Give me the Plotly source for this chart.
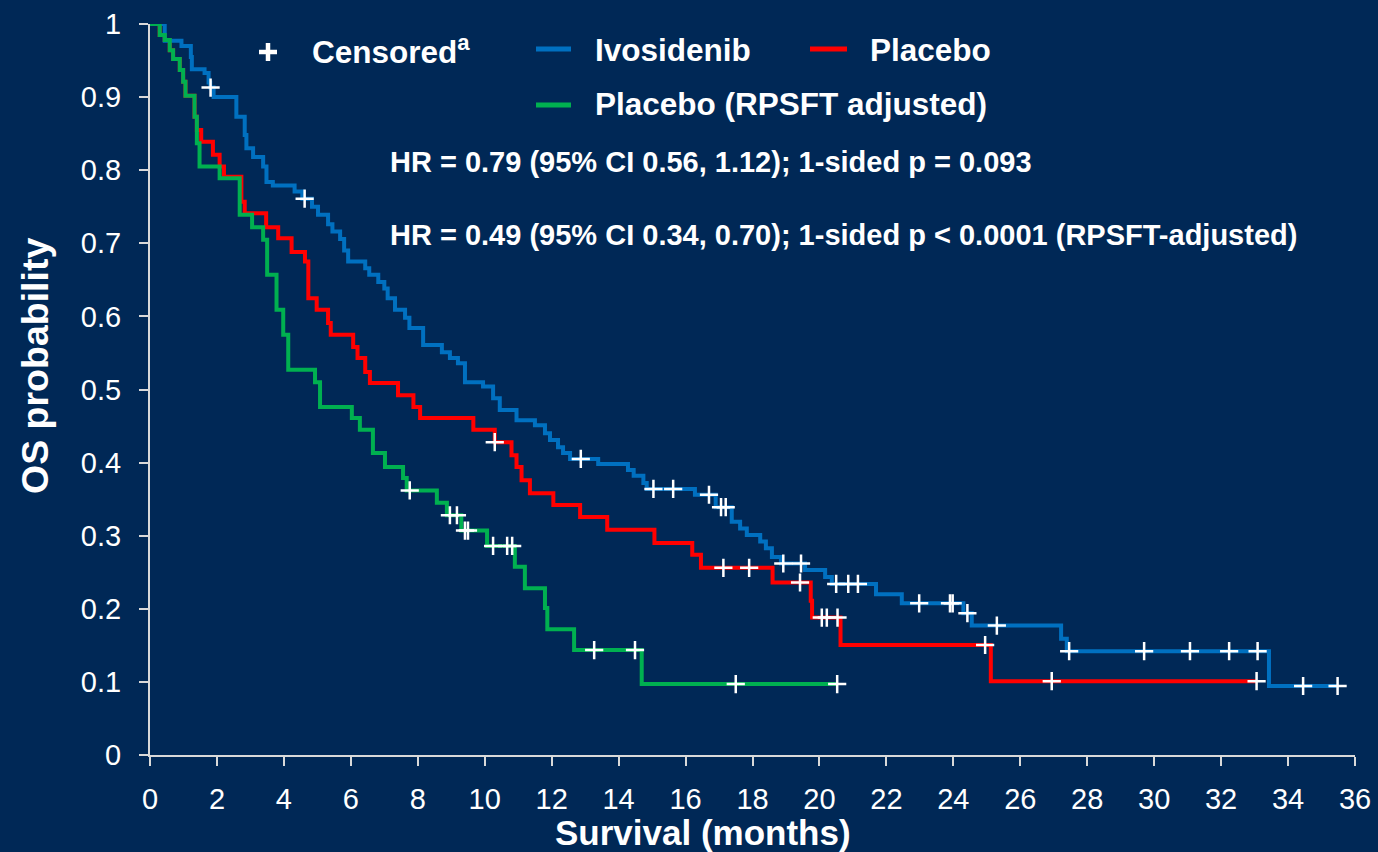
import numpy as np
import plotly.graph_objects as go

# ---------------- data ----------------
ivo_t = [0.44, 0.94, 1.22, 1.25, 1.63, 1.75, 1.80, 1.90, 2.58, 2.83, 2.88, 3.08, 3.38, 3.48, 3.67,
         4.32, 4.55, 4.84, 5.02, 5.32, 5.45, 5.68, 5.80, 5.92, 6.43, 6.55, 6.82, 7.00, 7.10, 7.32,
         7.62, 7.75, 8.16, 8.72, 8.96, 9.20, 9.41, 9.95, 10.25, 10.45, 10.95, 11.50, 11.80, 11.95,
         12.19, 12.34, 12.55, 13.39, 14.28, 14.45, 14.74, 14.84, 16.28, 16.90, 17.38, 17.63, 17.83,
         18.23, 18.40, 18.58, 18.85, 19.57, 20.17, 20.37, 21.69, 22.46, 24.30, 24.55, 27.22, 27.39,
         33.43]
ivo_s = [0.977, 0.970, 0.955, 0.938, 0.933, 0.920, 0.913, 0.900, 0.873, 0.848, 0.830, 0.818, 0.805,
         0.784, 0.779, 0.771, 0.761, 0.750, 0.739, 0.726, 0.716, 0.706, 0.690, 0.675, 0.666, 0.657,
         0.647, 0.638, 0.625, 0.609, 0.598, 0.584, 0.561, 0.551, 0.543, 0.536, 0.510, 0.504, 0.488,
         0.472, 0.458, 0.451, 0.440, 0.431, 0.421, 0.413, 0.405, 0.398, 0.390, 0.382, 0.372, 0.364,
         0.356, 0.339, 0.319, 0.310, 0.301, 0.292, 0.283, 0.271, 0.262, 0.253, 0.2435, 0.234, 0.220,
         0.2075, 0.194, 0.177, 0.159, 0.142, 0.0944]
ivo_cens = [1.81, 4.62, 12.87, 15.04, 15.63, 16.70, 17.06, 17.20, 18.92, 19.45, 20.50, 20.86, 21.15,
            22.98, 23.90, 23.98, 24.42, 25.30, 27.46, 29.70, 31.07, 32.24, 33.09, 34.45, 35.48]
ivo_end = 35.5

pbo_t = [0.29, 0.44, 0.59, 0.69, 0.89, 0.99, 1.06, 1.33, 1.40, 1.53, 1.88, 2.08, 2.21, 2.73, 2.83,
         3.47, 3.83, 4.23, 4.63, 4.73, 4.98, 5.32, 5.40, 6.07, 6.20, 6.43, 6.57, 7.41, 7.87, 8.07,
         9.66, 10.30, 10.80, 10.95, 11.10, 11.35, 12.05, 12.85, 13.66, 15.07, 16.20, 16.46, 18.60,
         19.74, 19.78, 20.63, 25.12]
pbo_s = [0.985, 0.978, 0.964, 0.952, 0.937, 0.921, 0.902, 0.873, 0.855, 0.839, 0.821, 0.805, 0.791,
         0.757, 0.741, 0.722, 0.707, 0.688, 0.675, 0.625, 0.609, 0.591, 0.575, 0.558, 0.543, 0.524,
         0.509, 0.492, 0.476, 0.461, 0.445, 0.428, 0.410, 0.394, 0.376, 0.358, 0.342, 0.3256, 0.308,
         0.290, 0.274, 0.256, 0.236, 0.211, 0.188, 0.1505, 0.101]
pbo_cens = [10.30, 17.13, 17.90, 19.42, 20.07, 20.22, 20.54, 24.95, 26.94, 33.06]
pbo_end = 33.06

adj_t = [0.29, 0.44, 0.59, 0.69, 0.89, 0.99, 1.06, 1.33, 1.40, 1.48, 2.08, 2.68, 3.05, 3.38, 3.50,
         3.78, 3.98, 4.13, 4.93, 5.08, 6.03, 6.27, 6.66, 7.02, 7.56, 7.67, 8.57, 8.87, 9.30, 10.07,
         10.90, 11.20, 11.80, 11.87, 12.67, 14.69]
adj_s = [0.985, 0.978, 0.964, 0.952, 0.937, 0.921, 0.902, 0.873, 0.837, 0.805, 0.789, 0.739, 0.722,
         0.705, 0.657, 0.609, 0.575, 0.527, 0.510, 0.476, 0.461, 0.445, 0.413, 0.394, 0.379, 0.362,
         0.345, 0.328, 0.307, 0.286, 0.2576, 0.228, 0.201, 0.172, 0.1436, 0.097]
adj_cens = [7.76, 8.96, 9.17, 9.41, 9.50, 10.25, 10.67, 10.82, 13.27, 14.49, 17.50, 20.53]
adj_end = 20.53

x_ticks = list(range(0, 37, 2))
y_ticks = [0, 0.1, 0.2, 0.3, 0.4, 0.5, 0.6, 0.7, 0.8, 0.9, 1]
y_ticktext = ["0", "0.1", "0.2", "0.3", "0.4", "0.5", "0.6", "0.7", "0.8", "0.9", "1"]

legend_labels = ["Censored<sup>a</sup>", "Ivosidenib", "Placebo", "Placebo (RPSFT adjusted)"]
hr_texts = ["HR = 0.79 (95% CI 0.56, 1.12); 1-sided p = 0.093",
            "HR = 0.49 (95% CI 0.34, 0.70); 1-sided p < 0.0001 (RPSFT-adjusted)"]
x_title = "Survival (months)"
y_title = "OS probability"

# ---------------- styling ----------------
BG = "#002856"
BLUE = "#0070C0"
RED = "#FF0000"
GREEN = "#00B050"
AXIS = "#D9D9D9"
FONT = "Liberation Sans, Arial, sans-serif"


def step_xy(t, s, end):
    x = [0] + list(t) + [end]
    y = [1] + list(s) + [s[-1]]
    return x, y


def cens_y(t, s, cens):
    tt = np.array(t)
    ss = np.array([1.0] + list(s))
    idx = np.searchsorted(tt, np.array(cens), side="right")
    return ss[idx].tolist()


fig = go.Figure()

for t, s, end, col in [(pbo_t, pbo_s, pbo_end, RED),
                       (ivo_t, ivo_s, ivo_end, BLUE),
                       (adj_t, adj_s, adj_end, GREEN)]:
    x, y = step_xy(t, s, end)
    fig.add_trace(go.Scatter(x=x, y=y, mode="lines", line=dict(color=col, width=4, shape="hv"),
                             showlegend=False, hoverinfo="skip"))

for t, s, c in [(pbo_t, pbo_s, pbo_cens), (ivo_t, ivo_s, ivo_cens), (adj_t, adj_s, adj_cens)]:
    fig.add_trace(go.Scatter(x=c, y=cens_y(t, s, c), mode="markers", cliponaxis=False,
                             marker=dict(symbol="cross-thin", size=13,
                                         line=dict(color="white", width=2.5)),
                             showlegend=False, hoverinfo="skip"))

W, H = 1378, 852
L, R, T, B = 150, 23, 24, 97
PW, PH = W - L - R, H - T - B


def px(xp):
    return (xp - L) / PW


def py(yp):
    return (H - B - yp) / PH


annotations = []
shapes = []

# legend: censor glyph (thick plus)
shapes.append(dict(type="line", xref="paper", yref="paper", x0=px(259), x1=px(277),
                   y0=py(52), y1=py(52), line=dict(color="white", width=4.5)))
shapes.append(dict(type="line", xref="paper", yref="paper", x0=px(268), x1=px(268),
                   y0=py(43), y1=py(61), line=dict(color="white", width=4.5)))

leg_items = [(310, 50, None, legend_labels[0]),
             (593, 50, (BLUE, 536, 571, 49), legend_labels[1]),
             (868, 50, (RED, 810, 847, 49), legend_labels[2]),
             (593, 104, (GREEN, 536, 571, 105), legend_labels[3])]
for tx, ty, sw, lab in leg_items:
    annotations.append(dict(x=px(tx), y=py(ty), xref="paper", yref="paper", text="<b>" + lab + "</b>",
                            showarrow=False, xanchor="left", yanchor="middle",
                            font=dict(family=FONT, size=31.5, color="white")))
    if sw:
        c, x0, x1, yy = sw
        shapes.append(dict(type="line", xref="paper", yref="paper", x0=px(x0), x1=px(x1),
                           y0=py(yy), y1=py(yy), line=dict(color=c, width=5)))

# HR texts
for txt, ty in zip(hr_texts, [162, 235]):
    annotations.append(dict(x=px(388), y=py(ty), xref="paper", yref="paper", text="<b>" + txt + "</b>",
                            showarrow=False, xanchor="left", yanchor="middle",
                            font=dict(family=FONT, size=29, color="white")))

# axis titles
annotations.append(dict(x=px(703), y=py(833), xref="paper", yref="paper", text="<b>" + x_title + "</b>",
                        showarrow=False, xanchor="center", yanchor="middle",
                        font=dict(family=FONT, size=35, color="white")))
annotations.append(dict(x=px(35), y=py(366), xref="paper", yref="paper", text="<b>" + y_title + "</b>",
                        showarrow=False, xanchor="center", yanchor="middle", textangle=-90,
                        font=dict(family=FONT, size=37.5, color="white")))

fig.update_layout(
    width=W, height=H,
    margin=dict(l=L, r=R, t=T, b=B, autoexpand=False),
    paper_bgcolor=BG, plot_bgcolor=BG,
    font=dict(family=FONT, color="white"),
    annotations=annotations, shapes=shapes,
    showlegend=False,
)
fig.update_xaxes(range=[0, 36], tickvals=x_ticks, ticks="outside", ticklen=9, tickwidth=2,
                 tickcolor=AXIS, showline=True, linecolor=AXIS, linewidth=2, showgrid=False,
                 zeroline=False, tickfont=dict(family=FONT, size=29, color="white"),
                 ticklabelstandoff=8, automargin=False)
fig.update_yaxes(range=[0, 1], tickvals=y_ticks, ticktext=y_ticktext, ticks="outside", ticklen=9,
                 tickwidth=2, tickcolor=AXIS, showline=True, linecolor=AXIS, linewidth=2,
                 showgrid=False, zeroline=False, tickfont=dict(family=FONT, size=29, color="white"),
                 ticklabelstandoff=12, automargin=False)

fig.write_html("out.html")
